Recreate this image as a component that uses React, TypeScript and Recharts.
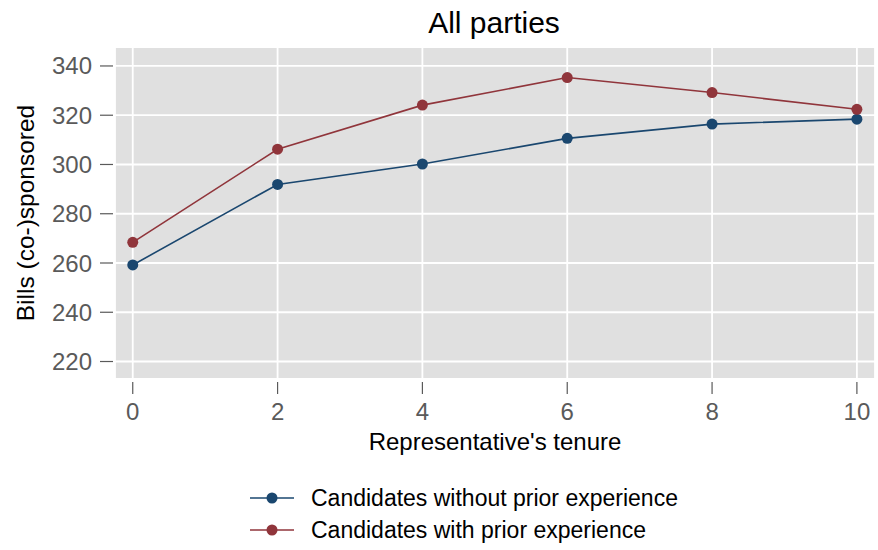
import React from 'react';
import { LineChart, Line, XAxis, YAxis, CartesianGrid } from 'recharts';

const tenure = [0, 2, 4, 6, 8, 10];
const withoutPrior = [259.2, 291.9, 300.2, 310.6, 316.4, 318.4];
const withPrior = [268.4, 306.2, 324.1, 335.3, 329.2, 322.4];
const xTicks = [0, 2, 4, 6, 8, 10];
const yTicks = [220, 240, 260, 280, 300, 320, 340];
const seriesKeys = ['without', 'with'];
const seriesNames = ['Candidates without prior experience', 'Candidates with prior experience'];
const seriesColors = ['#1a476f', '#90353b'];
const titleText = 'All parties';
const xLabel = "Representative's tenure";
const yLabel = 'Bills (co-)sponsored';

const data = tenure.map((t, i) => ({ tenure: t, without: withoutPrior[i], with: withPrior[i] }));

const FONT = '"Liberation Sans", Arial, Helvetica, sans-serif';
const TICK_COLOR = '#5a5a5a';

const XTick = (props: any) => {
  const { x, y, payload } = props;
  return (
    <g>
      <line x1={x} x2={x} y1={y + 3} y2={y + 15} stroke={TICK_COLOR} strokeWidth={1.2} />
      <text x={x} y={y + 41} textAnchor="middle" fontSize={24} fill={TICK_COLOR} fontFamily={FONT}>
        {payload.value}
      </text>
    </g>
  );
};

const YTick = (props: any) => {
  const { x, y, payload } = props;
  return (
    <g>
      <line x1={x - 15} x2={x - 2} y1={y} y2={y} stroke={TICK_COLOR} strokeWidth={1.2} />
      <text x={x - 23} y={y} dy="0.355em" textAnchor="end" fontSize={24} fill={TICK_COLOR} fontFamily={FONT}>
        {payload.value}
      </text>
    </g>
  );
};

export default function App() {
  return (
    <div style={{ position: 'absolute', left: 0, top: 0, width: 878, height: 550, background: '#fff' }}>
      <LineChart
        width={878}
        height={550}
        data={data}
        margin={{ top: 47, right: 3, bottom: 111, left: 0 }}
      >
        <CartesianGrid fill="#e0e0e0" stroke="#ffffff" strokeWidth={1.8} />
        <XAxis
          dataKey="tenure"
          type="number"
          domain={[-0.245, 10.25]}
          ticks={xTicks}
          allowDataOverflow
          axisLine={false}
          tickLine={false}
          tickSize={0}
          tickMargin={0}
          height={60}
          tick={XTick}
          interval={0}
        />
        <YAxis
          type="number"
          domain={[212.9, 347.7]}
          ticks={yTicks}
          allowDataOverflow
          axisLine={false}
          tickLine={false}
          tickSize={0}
          tickMargin={0}
          width={115}
          tick={YTick}
          interval={0}
        />
        {seriesKeys.map((k, i) => (
          <Line
            key={k}
            dataKey={k}
            name={seriesNames[i]}
            type="linear"
            stroke={seriesColors[i]}
            strokeWidth={1.6}
            dot={{ r: 5.5, fill: seriesColors[i], stroke: 'none' }}
            isAnimationActive={false}
          />
        ))}
      </LineChart>
      <svg
        width={878}
        height={550}
        style={{ position: 'absolute', left: 0, top: 0, pointerEvents: 'none' }}
      >
        <text x={494} y={33} textAnchor="middle" fontSize={30} fill="#000" fontFamily={FONT}>
          {titleText}
        </text>
        <text x={495} y={450} textAnchor="middle" fontSize={24} fill="#000" fontFamily={FONT}>
          {xLabel}
        </text>
        <text
          x={34}
          y={213}
          textAnchor="middle"
          fontSize={24.5}
          fill="#000"
          fontFamily={FONT}
          transform="rotate(-90, 34, 213)"
        >
          {yLabel}
        </text>
        {seriesNames.map((name, i) => {
          const cy = 498 + i * 32;
          return (
            <g key={name}>
              <line x1={250} x2={294} y1={cy} y2={cy} stroke={seriesColors[i]} strokeWidth={1.6} />
              <circle cx={272} cy={cy} r={5.5} fill={seriesColors[i]} />
              <text x={311} y={cy} dy="0.355em" fontSize={23} fill="#000" fontFamily={FONT}>
                {name}
              </text>
            </g>
          );
        })}
      </svg>
    </div>
  );
}
